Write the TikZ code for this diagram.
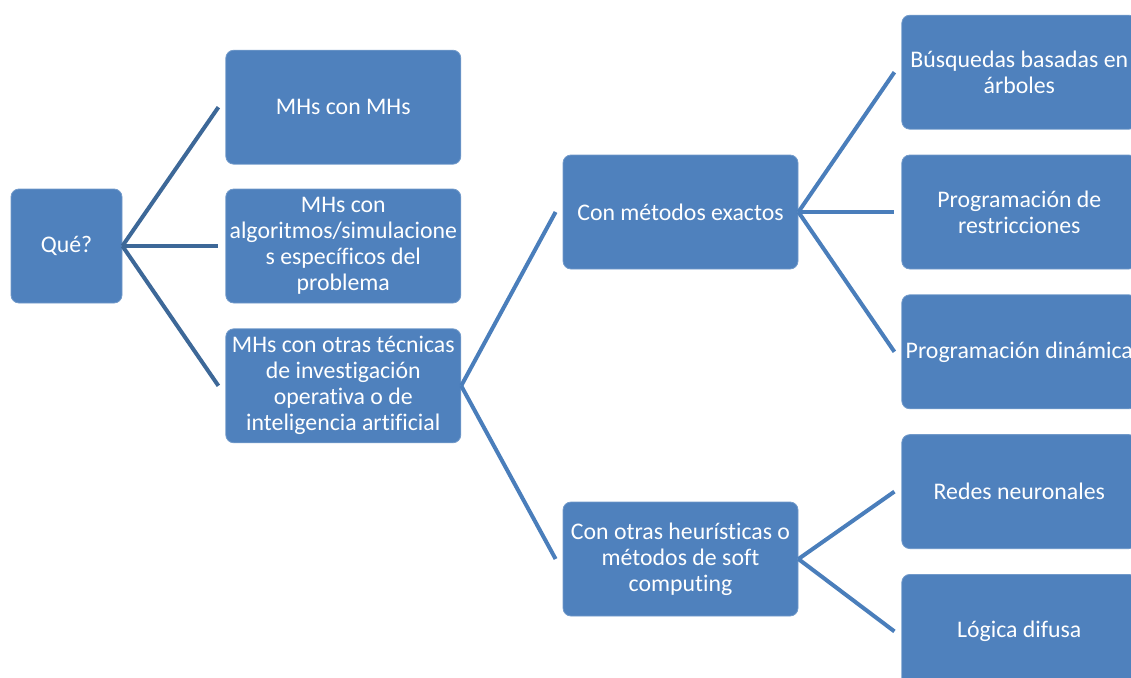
\documentclass[tikz,border=0pt]{standalone}
\usepackage{fontspec}
\setmainfont{Carlito}[Ligatures=NoCommon]
\usetikzlibrary{positioning}

\definecolor{boxblue}{HTML}{4F81BD}
\definecolor{linkdark}{HTML}{3D6898}
\definecolor{linkblue}{HTML}{4A7EBB}

\begin{document}
\begin{tikzpicture}[
  x=1pt, y=-1pt,
  box/.style={draw=boxblue!80!white, line width=0.8pt, fill=boxblue, rounded corners=8pt, align=center,
    text=white, minimum width=235pt, minimum height=114pt, inner sep=2pt,
    font=\fontsize{23.8}{26}\selectfont},
  root/.style={box, minimum width=111pt},
  link/.style={line width=4pt, draw=linkblue},
  link1/.style={link, draw=linkdark}
]
\useasboundingbox (0,0) rectangle (1131,677);
\clip (0,0) rectangle (1131,677);

% root and first level
\node[root] (que) at (66.5,246) {Qué?};
\node[box, right=103pt of que] (mhsim) {MHs con\\algoritmos/simulacione\\s específicos del\\problema};
\node[box, above=24pt of mhsim] (mhmh) {MHs con MHs};
\node[box, below=25pt of mhsim] (mhotras) {MHs con otras técnicas\\de investigación\\operativa o de\\inteligencia artificial};

% second level
\node[box] (exactos) at (680.5,212) {Con métodos exactos};
\node[box] (soft) at (680.5,559) {Con otras heurísticas o\\métodos de soft\\computing};

% third level
\node[box, right=103pt of exactos] (restr) {Programación de\\restricciones};
\node[box, above=25pt of restr] (arboles) {Búsquedas basadas en\\árboles};
\node[box, below=25pt of restr] (dinam) {Programación dinámica};
\node[box, below=25pt of dinam] (redes) {Redes neuronales};
\node[box, below=25pt of redes] (difusa) {Lógica difusa};

% connectors
\foreach \c in {mhmh,mhsim,mhotras}
  \draw[link1] (que.east) -- ([xshift=-7pt]\c.west);
\foreach \c in {exactos,soft}
  \draw[link] (mhotras.east) -- ([xshift=-7pt]\c.west);
\foreach \c in {arboles,restr,dinam}
  \draw[link] (exactos.east) -- ([xshift=-7pt]\c.west);
\foreach \c in {redes,difusa}
  \draw[link] (soft.east) -- ([xshift=-7pt]\c.west);

\end{tikzpicture}
\end{document}
